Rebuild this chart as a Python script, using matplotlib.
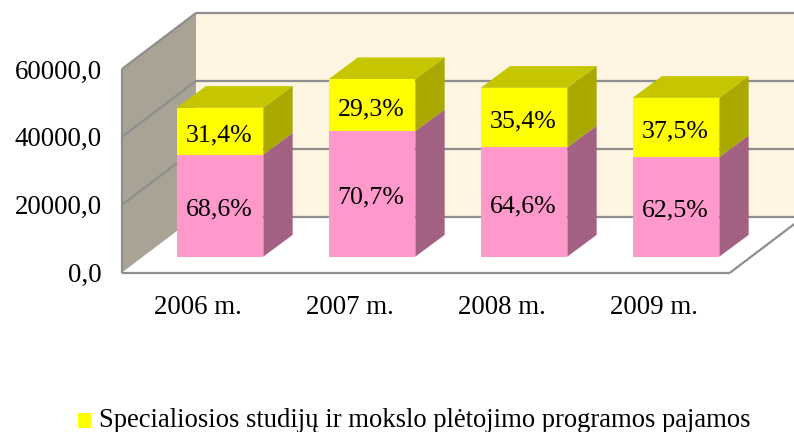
import matplotlib
matplotlib.use("Agg")
import matplotlib.pyplot as plt
from matplotlib.patches import Polygon

plt.rcParams['font.family'] = ['Liberation Serif', 'DejaVu Serif']

categories = ["2006 m.", "2007 m.", "2008 m.", "2009 m."]
pink_values = [30070, 36970, 32160, 29300]
yellow_values = [13760, 15320, 17560, 17470]
pink_labels = ["68,6%", "70,7%", "64,6%", "62,5%"]
yellow_labels = ["31,4%", "29,3%", "35,4%", "37,5%"]
y_ticks = [0, 20000, 40000, 60000]
y_tick_labels = ["0,0", "20000,0", "40000,0", "60000,0"]
legend_label = "Specialiosios studijų ir mokslo plėtojimo programos pajamos"

W, H = 794, 432
fig = plt.figure(figsize=(W / 100, H / 100), dpi=100, facecolor="white")
ax = fig.add_axes([122 / W, (H - 272.7) / H, 608 / W, 203.7 / H])
ax.set_xlim(-0.5, 3.5)
ax.set_ylim(0, 60000)
for s in ax.spines.values():
    s.set_visible(False)
ax.patch.set_visible(False)

PX_X = 4 / 608          # data units per pixel
PX_Y = 60000 / 203.7
WALL_DX, WALL_DY = 74 * PX_X, 56 * PX_Y
BAR_SHIFT_X, BAR_SHIFT_Y = 22 * PX_X, 16.1 * PX_Y
DEPTH_X, DEPTH_Y = 29.3 * PX_X, 21.7 * PX_Y
BAR_W = 86.7 * PX_X
GRID = "#8E8E8E"
x0, x1 = -0.5, 3.5
top = 60000


def poly(points, color, z, edge=None, lw=0.0):
    ax.add_patch(Polygon(points, closed=True, facecolor=color, edgecolor=edge or color,
                         linewidth=lw, zorder=z, clip_on=False))


def line(xs, ys, z=2, lw=1.6):
    ax.plot(xs, ys, color=GRID, lw=lw, zorder=z, clip_on=False, solid_capstyle="butt")


# back wall, side wall, floor
poly([(x0 + WALL_DX, WALL_DY), (x1 + WALL_DX, WALL_DY), (x1 + WALL_DX, top + WALL_DY), (x0 + WALL_DX, top + WALL_DY)],
     "#FDF4E1", 1)
poly([(x0, 0), (x0 + WALL_DX, WALL_DY), (x0 + WALL_DX, top + WALL_DY), (x0, top)], "#A9A396", 1)
poly([(x0, 0), (x1, 0), (x1 + WALL_DX, WALL_DY), (x0 + WALL_DX, WALL_DY)], "white", 1)

# gridlines on both walls
for v in y_ticks:
    if v > 0:
        line([x0, x0 + WALL_DX], [v, v + WALL_DY])
    line([x0 + WALL_DX, x1 + WALL_DX], [v + WALL_DY, v + WALL_DY])
line([x0, x0], [0, top])
line([x0, x1], [0, 0])
line([x1, x1 + WALL_DX], [0, WALL_DY])

# stacked bars
for i, (p, y) in enumerate(zip(pink_values, yellow_values)):
    cx = i + BAR_SHIFT_X
    l, r = cx - BAR_W / 2, cx + BAR_W / 2
    b = BAR_SHIFT_Y
    m = b + p
    t = m + y
    poly([(r, b), (r + DEPTH_X, b + DEPTH_Y), (r + DEPTH_X, m + DEPTH_Y), (r, m)], "#A36183", 3 + i)
    poly([(r, m), (r + DEPTH_X, m + DEPTH_Y), (r + DEPTH_X, t + DEPTH_Y), (r, t)], "#A8A800", 3 + i)
    poly([(l, t), (r, t), (r + DEPTH_X, t + DEPTH_Y), (l + DEPTH_X, t + DEPTH_Y)], "#C6C600", 3 + i)
    ax.bar(cx, p, BAR_W, bottom=b, color="#FF99CC", zorder=3 + i, clip_on=False)
    ax.bar(cx, y, BAR_W, bottom=m, color="#FFFF00", zorder=3 + i, clip_on=False,
           label=legend_label if i == 0 else None)
    ax.text(cx - 1 * PX_X, b + p / 2 - 4 * PX_Y, pink_labels[i], ha="center", va="center",
            fontsize=18.6, color="black", zorder=10)
    ax.text(cx - 1 * PX_X, m + y / 2 - 4 * PX_Y, yellow_labels[i], ha="center", va="center",
            fontsize=18.6, color="black", zorder=10)

ax.set_xticks(range(4), categories, fontsize=19.4)
ax.set_yticks(y_ticks, y_tick_labels, fontsize=19.4)
ax.tick_params(axis="both", length=0)
ax.tick_params(axis="x", pad=16)
ax.tick_params(axis="y", pad=14.5)

leg = fig.legend(loc="lower left", bbox_to_anchor=(78 / W, -1 / H), frameon=False, fontsize=19.15,
                 handlelength=0.5, handleheight=0.5, handletextpad=0.28, borderpad=0, borderaxespad=0)
handle = leg.legend_handles[0]
handle.set_y(handle.get_y() - 2.2)

fig.savefig("out.png", dpi=100, facecolor="white")
